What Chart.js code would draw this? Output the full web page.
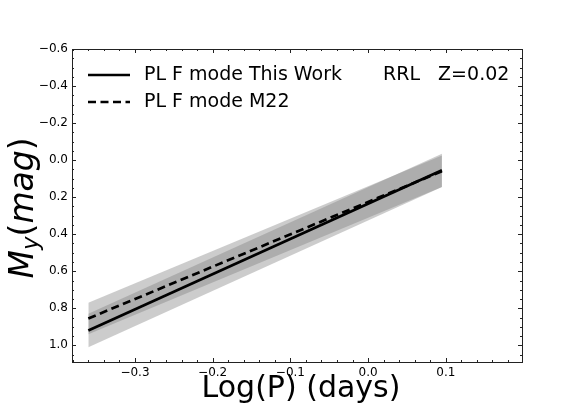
<!DOCTYPE html>
<html>
<head>
<meta charset="utf-8">
<script src="https://cdn.jsdelivr.net/npm/chart.js@4/dist/chart.umd.min.js"></script>
<style>
  html, body { margin: 0; padding: 0; background: #fff; }
</style>
</head>
<body>
<canvas id="plChart" width="581" height="407"></canvas>
<script>
// period-luminosity relations, RRL Z=0.02
const logP = [-0.36, 0.095];
const plThisWork = [0.92, 0.055];
const plM22 = [0.855, 0.06];
const thisWorkUpper = [0.83, -0.035];
const thisWorkLower = [1.01, 0.145];
const m22Upper = [0.77, -0.025];
const m22Lower = [0.94, 0.145];

const xTicks = [-0.3, -0.2, -0.1, 0.0, 0.1];
const yTicks = [-0.6, -0.4, -0.2, 0.0, 0.2, 0.4, 0.6, 0.8, 1.0];
const legendLabels = ['PL F mode This Work', 'PL F mode M22'];
const annotation = 'RRL   Z=0.02';
const xTitle = 'Log(P) (days)';

const FONT = "'DejaVu Sans', sans-serif";
const BAND = 'rgba(128,128,128,0.4)';

function pts(xs, ys) {
  return xs.map((x, i) => ({ x: x, y: ys[i] }));
}

function fmt(v) {
  return v.toFixed(1).replace('-', '\u2212');
}

// inward ticks on all four sides, frame, legend, axis titles
const decorations = {
  id: 'decorations',
  afterDraw(chart) {
    const c = chart.ctx;
    const a = chart.chartArea;
    const xs = chart.scales.x, ys = chart.scales.y;
    c.save();
    c.strokeStyle = '#222';
    c.lineWidth = 1;

    function xtick(v, len) {
      const px = Math.round(xs.getPixelForValue(v)) + 0.5;
      if (px < a.left || px > a.right) return;
      c.beginPath();
      c.moveTo(px, a.bottom); c.lineTo(px, a.bottom - len);
      c.moveTo(px, a.top); c.lineTo(px, a.top + len);
      c.stroke();
    }
    function ytick(v, len) {
      const py = Math.round(ys.getPixelForValue(v)) + 0.5;
      if (py < a.top || py > a.bottom) return;
      c.beginPath();
      c.moveTo(a.left, py); c.lineTo(a.left + len, py);
      c.moveTo(a.right, py); c.lineTo(a.right - len, py);
      c.stroke();
    }
    for (let i = -20; i <= 10; i++) xtick(i * 0.02, 2);
    for (let i = -12; i <= 22; i++) ytick(i * 0.05, 2);
    xTicks.forEach(v => xtick(v, 4));
    yTicks.forEach(v => ytick(v, 4));

    c.strokeRect(Math.round(a.left) + 0.5, Math.round(a.top) + 0.5,
      Math.round(a.right - a.left), Math.round(a.bottom - a.top));

    // legend
    c.fillStyle = '#000';
    c.strokeStyle = '#000';
    c.font = '19px ' + FONT;
    c.textBaseline = 'middle';
    c.textAlign = 'left';
    const rows = [75, 102];
    rows.forEach((y, i) => {
      c.lineWidth = 2.7;
      c.setLineDash(i === 0 ? [] : [8, 4.5]);
      c.beginPath();
      c.moveTo(88, y); c.lineTo(130, y);
      c.stroke();
      c.setLineDash([]);
      c.fillText(legendLabels[i], 144, y);
    });
    c.fillText(annotation, 383, rows[0]);

    // x title
    c.font = '30px ' + FONT;
    c.textAlign = 'center';
    c.textBaseline = 'alphabetic';
    c.fillText(xTitle, 301, 397);

    // y title: M_y(mag)
    c.textAlign = 'left';
    c.translate(33, 208);
    c.rotate(-Math.PI / 2);
    const big = 'italic 33px ' + FONT;
    const reg = '33px ' + FONT;
    const sub = 'italic 23px ' + FONT;
    const parts = [
      [big, 'M', 0], [sub, 'y', 5], [reg, '(', 0], [big, 'mag', 0], [reg, ')', 0]
    ];
    let w = 0;
    parts.forEach(p => { c.font = p[0]; w += c.measureText(p[1]).width; });
    let x = -w / 2;
    parts.forEach(p => {
      c.font = p[0];
      c.fillText(p[1], x, p[2]);
      x += c.measureText(p[1]).width;
    });
    c.restore();
  }
};

const bandStyle = { borderWidth: 0, pointRadius: 0, backgroundColor: BAND };

// lines first so they are drawn on top of the bands
new Chart(document.getElementById('plChart'), {
  type: 'line',
  data: {
    datasets: [
      {
        label: legendLabels[0], data: pts(logP, plThisWork),
        borderColor: '#000', borderWidth: 2.7, pointRadius: 0, fill: false
      },
      {
        label: legendLabels[1], data: pts(logP, plM22),
        borderColor: '#000', borderWidth: 2.7, borderDash: [8, 4.5], pointRadius: 0, fill: false
      },
      Object.assign({ data: pts(logP, thisWorkUpper), fill: '+1' }, bandStyle),
      Object.assign({ data: pts(logP, thisWorkLower), fill: false }, bandStyle),
      Object.assign({ data: pts(logP, m22Upper), fill: '+1' }, bandStyle),
      Object.assign({ data: pts(logP, m22Lower), fill: false }, bandStyle)
    ]
  },
  options: {
    responsive: false,
    animation: false,
    devicePixelRatio: 1,
    layout: { padding: { top: 49, right: 59, left: 0, bottom: 0 } },
    plugins: { legend: { display: false }, tooltip: { enabled: false } },
    scales: {
      x: {
        type: 'linear',
        min: -0.381, max: 0.198,
        grid: { display: false, drawTicks: false },
        border: { display: false },
        afterBuildTicks: s => { s.ticks = xTicks.map(v => ({ value: v })); },
        afterFit: s => { s.height = 45; },
        ticks: { color: '#000', font: { family: FONT, size: 12 }, padding: 4, maxRotation: 0, callback: v => fmt(v) }
      },
      y: {
        type: 'linear',
        reverse: true,
        min: -0.6, max: 1.09,
        grid: { display: false, drawTicks: false },
        border: { display: false },
        afterBuildTicks: s => { s.ticks = yTicks.map(v => ({ value: v })); },
        afterFit: s => { s.width = 72; },
        ticks: { color: '#000', font: { family: FONT, size: 12 }, padding: 4, callback: v => fmt(v) }
      }
    }
  },
  plugins: [decorations]
});
</script>
</body>
</html>
